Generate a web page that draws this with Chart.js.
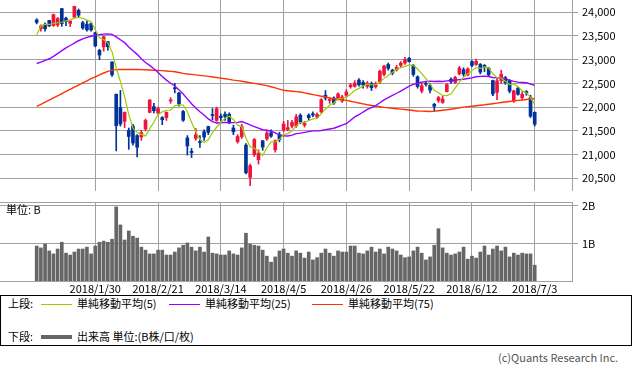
<!DOCTYPE html>
<html>
<head>
<meta charset="utf-8">
<script src="https://cdn.jsdelivr.net/npm/chart.js@4.4.1/dist/chart.umd.min.js"></script>
<style>
  body { margin: 0; width: 633px; height: 370px; background: #fff; position: relative; overflow: hidden;
         font-family: "Noto Sans CJK JP", "Noto Sans", sans-serif; color: #000; }
  .abs { position: absolute; white-space: nowrap; font-size: 11px; line-height: 13px; }
  #legend { position: absolute; left: 0; top: 295px; width: 630px; height: 49px; border: 1px solid #000; }
  .sw { position: absolute; height: 0; }
</style>
</head>
<body>
<canvas id="priceChart" width="633" height="191" style="position:absolute;left:0;top:0"></canvas>
<canvas id="volumeChart" width="633" height="100" style="position:absolute;left:0;top:195px"></canvas>
<div class="abs" style="left:6px;top:203px">単位: B</div>
<div id="legend">
  <div class="abs" style="left:7px;top:1px">上段:</div>
  <div class="sw" style="left:40px;top:8px;width:31px;border-top:1px solid #99cc00"></div>
  <div class="abs" style="left:76px;top:1px">単純移動平均(5)</div>
  <div class="sw" style="left:168px;top:8px;width:31px;border-top:1px solid #9900ff"></div>
  <div class="abs" style="left:204px;top:1px">単純移動平均(25)</div>
  <div class="sw" style="left:311px;top:8px;width:31px;border-top:1px solid #ff3300"></div>
  <div class="abs" style="left:347px;top:1px">単純移動平均(75)</div>
  <div class="abs" style="left:7px;top:34px">下段:</div>
  <div class="sw" style="left:40px;top:39px;width:31px;border-top:4px solid #666"></div>
  <div class="abs" style="left:76px;top:34px">出来高 単位:(B株/口/枚)</div>
</div>
<div class="abs" style="left:498px;top:351px;color:#555">(c)Quants Research Inc.</div>
<script>
// 日足 2018/1/10 - 2018/7/3
const dates = [
  '2018/1/10','2018/1/11','2018/1/12','2018/1/15','2018/1/16','2018/1/17','2018/1/18','2018/1/19','2018/1/22','2018/1/23',
  '2018/1/24','2018/1/25','2018/1/26','2018/1/29','2018/1/30','2018/1/31','2018/2/1','2018/2/2','2018/2/5','2018/2/6',
  '2018/2/7','2018/2/8','2018/2/9','2018/2/13','2018/2/14','2018/2/15','2018/2/16','2018/2/19','2018/2/20','2018/2/21',
  '2018/2/22','2018/2/23','2018/2/26','2018/2/27','2018/2/28','2018/3/1','2018/3/2','2018/3/5','2018/3/6','2018/3/7',
  '2018/3/8','2018/3/9','2018/3/12','2018/3/13','2018/3/14','2018/3/15','2018/3/16','2018/3/19','2018/3/20','2018/3/22',
  '2018/3/23','2018/3/26','2018/3/27','2018/3/28','2018/3/29','2018/3/30','2018/4/2','2018/4/3','2018/4/4','2018/4/5',
  '2018/4/6','2018/4/9','2018/4/10','2018/4/11','2018/4/12','2018/4/13','2018/4/16','2018/4/17','2018/4/18','2018/4/19',
  '2018/4/20','2018/4/23','2018/4/24','2018/4/25','2018/4/26','2018/4/27','2018/5/1','2018/5/2','2018/5/7','2018/5/8',
  '2018/5/9','2018/5/10','2018/5/11','2018/5/14','2018/5/15','2018/5/16','2018/5/17','2018/5/18','2018/5/21','2018/5/22',
  '2018/5/23','2018/5/24','2018/5/25','2018/5/28','2018/5/29','2018/5/30','2018/5/31','2018/6/1','2018/6/4','2018/6/5',
  '2018/6/6','2018/6/7','2018/6/8','2018/6/11','2018/6/12','2018/6/13','2018/6/14','2018/6/15','2018/6/18','2018/6/19',
  '2018/6/20','2018/6/21','2018/6/22','2018/6/25','2018/6/26','2018/6/27','2018/6/28','2018/6/29','2018/7/2','2018/7/3'
];

const openPrices = [
  23838,23657,23747,23827,23720,23735,24078,23875,23765,23900, 24040,23780,23750,23760,23570,23200,23270,23380,22950,22270,
  21990,21700,21510,21600,21400,21370,21540,21890,22010,21880, 21780,21780,22130,22400,22300,21910,21350,21070,21340,21270,
  21480,21590,21840,21720,21810,21850,21850,21560,21270,21380, 21200,20520,21000,20890,21290,21330,21460,21100,21420,21520,
  21530,21600,21600,21830,21620,21830,21860,21790,21900,22250, 22140,22190,22180,22130,22250,22430,22440,22570,22520,22440,
  22500,22430,22530,22690,22900,22780,22790,22880,22930,23030, 22880,22640,22340,22500,22460,22060,22140,22100,22330,22590,
  22520,22700,22790,22680,22960,22900,22900,22880,22820,22560, 22310,22560,22620,22560,22140,22400,22200,22330,22200,21890
];
const highPrices = [
  23864,23734,23779,23833,23962,23890,24084,23900,23817,24129, 24070,23810,23820,23780,23580,23220,23500,23390,22960,22280,
  22353,21900,21560,21640,21420,21510,21750,22160,22080,22000, 21800,21900,22200,22502,22310,21930,21400,21130,21550,21400,
  21520,21600,21970,22000,21860,21900,21880,21620,21420,21640, 21230,20800,21340,21100,21300,21500,21520,21310,21470,21700,
  21720,21720,21850,21860,21700,21860,21900,21880,22180,22350, 22200,22220,22300,22250,22370,22500,22560,22600,22560,22540,
  22530,22530,22780,22880,22930,22800,22880,22960,23050,23050, 22900,22660,22520,22540,22500,22080,22230,22230,22500,22620,
  22650,22860,22830,22830,22980,23011,22920,22900,22840,22570, 22600,22780,22650,22580,22360,22420,22330,22350,22250,21900
];
const lowPrices = [
  23755,23601,23601,23700,23704,23700,23704,23720,23700,23880, 23900,23640,23600,23600,23270,23000,23180,23200,22650,21078,
  21600,21570,21110,21200,20950,21300,21500,21880,21880,21850, 21630,21720,22080,22300,22020,21700,20990,20937,21300,21150,
  21300,21420,21730,21700,21720,21720,21650,21420,21240,21340, 20590,20347,20960,20800,21090,21300,21360,21050,21270,21480,
  21500,21560,21570,21650,21580,21720,21800,21760,21880,22150, 22080,22060,22150,22100,22220,22400,22420,22440,22400,22400,
  22350,22400,22500,22660,22780,22680,22760,22850,22900,22950, 22650,22400,22300,22440,22300,21910,22100,22080,22320,22500,
  22500,22680,22650,22660,22850,22880,22700,22750,22650,22240, 22160,22500,22480,22300,22100,22250,22150,22250,21780,21600
];
const closePrices = [
  23788,23710,23653,23714,23951,23868,23763,23808,23816,24124, 23940,23669,23631,23629,23291,23098,23486,23274,22682,21610,
  21645,21890,21382,21244,21154,21464,21720,22149,21925,21970, 21736,21892,22153,22389,22068,21724,21181,21042,21417,21252,
  21368,21469,21824,21968,21777,21803,21676,21480,21380,21591, 20617,20766,21317,21031,21159,21454,21388,21292,21319,21645,
  21567,21678,21794,21687,21660,21778,21835,21847,22158,22191, 22162,22088,22278,22215,22319,22467,22508,22472,22467,22508,
  22409,22497,22758,22865,22818,22717,22838,22930,23002,22960, 22689,22437,22450,22481,22358,22018,22201,22171,22475,22539,
  22625,22823,22694,22804,22878,22966,22738,22851,22680,22278, 22555,22693,22516,22338,22342,22271,22270,22300,21811,21640
];

// 単純移動平均
const ma5 = [
  23525,23714,23743,23743,23763,23779,23790,23821,23841,23876, 23890,23871,23836,23799,23632,23464,23427,23356,23166,22830,
  22539,22220,21842,21554,21463,21427,21393,21546,21682,21846, 21900,21934,21935,22028,22048,22045,21903,21681,21486,21323,
  21252,21310,21466,21576,21681,21768,21810,21741,21623,21586, 21349,21167,21134,21064,20978,21145,21270,21265,21322,21420,
  21442,21500,21601,21674,21677,21719,21751,21761,21856,21962, 22039,22089,22175,22187,22212,22273,22357,22396,22447,22484,
  22473,22471,22528,22607,22669,22731,22799,22834,22861,22889, 22884,22804,22708,22603,22483,22349,22302,22246,22245,22281,
  22402,22527,22631,22697,22765,22833,22816,22847,22823,22703, 22620,22611,22544,22476,22489,22432,22347,22305,22200,22059
];
const ma25 = [
  22920,22950,22985,23020,23070,23130,23190,23250,23300,23350, 23400,23440,23470,23495,23515,23530,23540,23545,23535,23480,
  23420,23360,23270,23190,23113,23020,22940,22880,22809,22729, 22644,22569,22503,22446,22364,22275,22175,22072,21983,21902,
  21833,21752,21694,21665,21672,21678,21670,21674,21679,21697, 21663,21625,21591,21556,21523,21512,21492,21457,21415,21398,
  21391,21411,21441,21452,21468,21485,21499,21500,21508,21525, 21539,21555,21587,21621,21650,21724,21793,21840,21897,21951,
  21989,22034,22092,22154,22201,22247,22293,22339,22391,22443, 22480,22504,22528,22541,22548,22542,22546,22542,22553,22561,
  22568,22580,22589,22603,22617,22640,22649,22653,22646,22624, 22618,22612,22595,22569,22544,22527,22521,22515,22488,22459
];
const ma75 = [
  22015,22060,22105,22150,22195,22240,22285,22330,22375,22420, 22465,22510,22555,22600,22640,22680,22720,22755,22780,22790,
  22795,22795,22795,22795,22795,22790,22787,22783,22779,22775, 22770,22763,22755,22745,22730,22712,22700,22690,22680,22670,
  22660,22648,22636,22625,22612,22598,22585,22570,22558,22545, 22530,22515,22500,22485,22470,22455,22430,22405,22380,22355,
  22345,22336,22327,22318,22300,22282,22265,22248,22230,22213, 22196,22178,22167,22155,22142,22124,22105,22087,22069,22050,
  22036,22022,22008,21994,21985,21976,21967,21958,21950,21940, 21930,21920,21915,21912,21909,21915,21925,21935,21945,21957,
  21970,21985,22000,22010,22020,22030,22040,22050,22062,22073, 22085,22097,22107,22118,22130,22142,22150,22160,22170,22178
];

// 出来高 (B)
const volumes = [
  0.93,0.88,0.98,0.80,0.72,0.85,1.03,0.74,0.69,0.77, 0.85,0.85,0.90,0.72,0.93,1.03,1.06,1.03,1.11,1.97,
  1.49,1.09,1.33,1.19,1.14,0.90,0.82,0.72,0.72,0.82, 0.82,0.69,0.69,0.77,0.88,0.95,1.01,0.90,0.80,0.90,
  0.77,1.17,0.74,0.72,0.69,0.69,0.80,0.72,0.69,0.88, 1.27,0.98,0.95,0.93,0.82,0.66,0.50,0.64,0.80,0.85,
  0.74,0.66,0.80,0.74,0.61,0.77,0.56,0.62,0.74,0.85, 0.74,0.66,0.80,0.77,0.77,0.93,0.93,0.74,0.72,0.80,
  0.90,0.77,0.85,0.72,0.90,0.85,0.80,0.69,0.62,0.64, 0.80,0.90,0.74,0.56,0.64,0.95,1.39,0.88,0.74,0.69,
  0.72,0.77,0.90,0.58,0.66,0.61,0.77,0.93,0.69,0.85, 0.93,0.80,0.90,0.64,0.74,0.69,0.74,0.72,0.72,0.42
];

const labelIdx = [14, 29, 44, 59, 74, 89, 104, 119];
const priceTicks = [20500, 21000, 21500, 22000, 22500, 23000, 23500, 24000];
const volumeTicks = [1, 2];

const FONT = '"Noto Sans CJK JP", "Noto Sans", sans-serif';
const GRID = '#a0a0a0';
const UP = '#f0143c';
const DOWN = '#003399';
const X_MIN = -8.77, X_MAX = 127.91;

const candleColors = closePrices.map((c, i) => c >= openPrices[i] ? UP : DOWN);
const xy = arr => arr.map((v, i) => ({ x: i, y: v }));

function fixRightAxis(scale) {
    scale.width = 61;
    scale.paddingTop = 0;
    scale.paddingBottom = 0;
}

new Chart(document.getElementById('priceChart'), {
    data: {
        datasets: [
            { type: 'line', data: xy(ma5), borderColor: '#99cc00', borderWidth: 1.2, pointRadius: 0, order: 0 },
            { type: 'line', data: xy(ma25), borderColor: '#9900ff', borderWidth: 1.4, pointRadius: 0, order: 0 },
            { type: 'line', data: xy(ma75), borderColor: '#ff3300', borderWidth: 1.4, pointRadius: 0, order: 0 },
            {
                type: 'bar',
                data: openPrices.map((o, i) => ({ x: i, y: [o, closePrices[i]] })),
                backgroundColor: candleColors,
                barThickness: 3,
                minBarLength: 1,
                grouped: false,
                order: 1
            },
            {
                type: 'bar',
                data: lowPrices.map((l, i) => ({ x: i, y: [l, highPrices[i]] })),
                backgroundColor: candleColors,
                barThickness: 1,
                grouped: false,
                order: 2
            }
        ]
    },
    options: {
        responsive: false,
        animation: false,
        layout: { padding: 0 },
        plugins: { legend: { display: false }, tooltip: { enabled: false } },
        scales: {
            x: {
                type: 'linear',
                offset: false,
                min: X_MIN,
                max: X_MAX,
                afterBuildTicks: s => { s.ticks = labelIdx.map(v => ({ value: v })); },
                ticks: { display: false },
                grid: { color: GRID, drawTicks: false, offset: false },
                border: { color: GRID }
            },
            y: {
                position: 'right',
                min: 20232,
                max: 24259,
                afterBuildTicks: s => { s.ticks = priceTicks.map(v => ({ value: v })); },
                afterFit: fixRightAxis,
                ticks: {
                    callback: v => v.toLocaleString('en-US'),
                    color: '#000',
                    padding: 4,
                    font: { size: 11, family: FONT }
                },
                grid: { color: GRID, tickLength: 6 },
                border: { color: GRID }
            }
        }
    }
});

new Chart(document.getElementById('volumeChart'), {
    type: 'bar',
    data: {
        datasets: [{
            data: xy(volumes),
            backgroundColor: '#666666',
            barThickness: 3
        }]
    },
    options: {
        responsive: false,
        animation: false,
        layout: { padding: { top: 7, left: 0, right: 0, bottom: 0 } },
        plugins: { legend: { display: false }, tooltip: { enabled: false } },
        scales: {
            x: {
                type: 'linear',
                offset: false,
                min: X_MIN,
                max: X_MAX,
                afterBuildTicks: s => { s.ticks = labelIdx.map(v => ({ value: v })); },
                afterFit: s => { s.height = 14; s.paddingLeft = 0; s.paddingRight = 0; },
                ticks: {
                    callback: v => dates[v],
                    autoSkip: false,
                    maxRotation: 0,
                    color: '#000',
                    padding: 1,
                    font: { size: 11, family: FONT }
                },
                grid: { color: GRID, drawTicks: false, offset: false },
                border: { color: GRID }
            },
            xTop: {
                type: 'linear',
                position: 'top',
                display: true,
                offset: false,
                min: X_MIN,
                max: X_MAX,
                ticks: { display: false },
                grid: { display: false, drawTicks: false },
                border: { color: GRID }
            },
            y: {
                position: 'right',
                min: 0,
                max: 2.1,
                afterBuildTicks: s => { s.ticks = volumeTicks.map(v => ({ value: v })); },
                afterFit: fixRightAxis,
                ticks: {
                    callback: v => v + 'B',
                    color: '#000',
                    padding: 4,
                    font: { size: 11, family: FONT }
                },
                grid: { color: GRID, tickLength: 6 },
                border: { color: GRID }
            }
        }
    }
});
</script>
</body>
</html>
